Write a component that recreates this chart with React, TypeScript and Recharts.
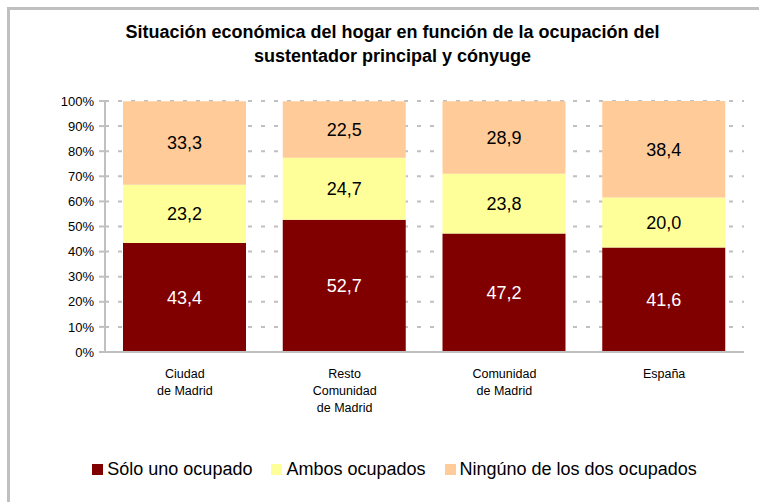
import React from "react";
import { BarChart, Bar, XAxis, YAxis, CartesianGrid, LabelList, Legend } from "recharts";

const categories = ["Ciudad\nde Madrid", "Resto\nComunidad\nde Madrid", "Comunidad\nde Madrid", "España"];
const soloUno = [43.4, 52.7, 47.2, 41.6];
const ambos = [23.2, 24.7, 23.8, 20.0];
const ninguno = [33.3, 22.5, 28.9, 38.4];
const yTicks = [0, 10, 20, 30, 40, 50, 60, 70, 80, 90, 100];
const seriesNames = ["Sólo uno ocupado", "Ambos ocupados", "Ningúno de los dos ocupados"];
const seriesColors = ["#800000", "#FFFF99", "#FFCC99"];
const titleLines = ["Situación económica del hogar en función de la ocupación del", "sustentador principal y cónyuge"];

const data = categories.map((c, i) => ({ cat: c, solo: soloUno[i], ambos: ambos[i], ninguno: ninguno[i] }));

const FONT = "'Liberation Sans', Arial, sans-serif";

const fmt = (v: any) => Number(v).toFixed(1).replace(".", ",");

const XTick = (props: any) => {
  const { x, y, payload } = props;
  const lines = String(payload.value).split("\n");
  return (
    <text x={x} y={y} textAnchor="middle" fontSize={12.5} fill="#000" fontFamily={FONT}>
      {lines.map((l, i) => (
        <tspan key={i} x={x} dy={i === 0 ? 18 : 17}>{l}</tspan>
      ))}
    </text>
  );
};

const LegendContent = () => (
  <div style={{ display: "flex", justifyContent: "center", alignItems: "center", height: 20, fontFamily: FONT, fontSize: 18, color: "#000", paddingLeft: 30 }}>
    {seriesNames.map((n, i) => (
      <div key={n} style={{ display: "flex", alignItems: "center", marginRight: i < 2 ? 19 : 0 }}>
        <span style={{ display: "inline-block", width: 11, height: 11, background: seriesColors[i], marginRight: 4 }} />
        <span>{n}</span>
      </div>
    ))}
  </div>
);

export default function App() {
  return (
    <div style={{ position: "absolute", left: 0, top: 0, width: 759, height: 502, overflow: "hidden", background: "#fff" }}>
      <div style={{ position: "absolute", left: 7, top: 7, width: 752, height: 3, background: "#c0c0c0" }} />
      <div style={{ position: "absolute", left: 7, top: 7, width: 3, height: 495, background: "#c0c0c0" }} />
      <div style={{ position: "absolute", left: 0, top: 20, width: 785, textAlign: "center", fontFamily: FONT, fontWeight: "bold", fontSize: 18, lineHeight: "24px", color: "#000" }}>
        {titleLines.map((t) => (
          <div key={t}>{t}</div>
        ))}
      </div>
      <div style={{ position: "absolute", left: 0, top: 0 }}>
        <BarChart
          width={759}
          height={502}
          data={data}
          margin={{ top: 101, right: 15, bottom: 70, left: 55 }}
          barSize={123}
        >
          <CartesianGrid vertical={false} stroke="#c0c0c0" strokeWidth={2} strokeDasharray="4 9" />
          <YAxis
            width={50}
            domain={[0, 100]}
            ticks={yTicks}
            allowDataOverflow
            tickFormatter={(v) => `${v}%`}
            axisLine={{ stroke: "#c0c0c0", strokeWidth: 2 }}
            tickLine={{ stroke: "#c0c0c0", strokeWidth: 2 }}
            tickSize={6}
            tickMargin={5}
            tick={{ fontSize: 13, fill: "#000", fontFamily: FONT }}
          />
          <XAxis
            dataKey="cat"
            height={60}
            interval={0}
            axisLine={{ stroke: "#c0c0c0", strokeWidth: 2 }}
            tickLine={false}
            tick={<XTick />}
          />
          <Legend content={<LegendContent />} wrapperStyle={{ top: 459, left: 0, width: 759, height: 20 }} />
          <Bar dataKey="solo" stackId="a" fill={seriesColors[0]} isAnimationActive={false}>
            <LabelList dataKey="solo" position="center" formatter={fmt} fill="#fff" fontSize={18} fontFamily={FONT} />
          </Bar>
          <Bar dataKey="ambos" stackId="a" fill={seriesColors[1]} isAnimationActive={false}>
            <LabelList dataKey="ambos" position="center" formatter={fmt} fill="#000" fontSize={18} fontFamily={FONT} />
          </Bar>
          <Bar dataKey="ninguno" stackId="a" fill={seriesColors[2]} isAnimationActive={false}>
            <LabelList dataKey="ninguno" position="center" formatter={fmt} fill="#000" fontSize={18} fontFamily={FONT} />
          </Bar>
        </BarChart>
      </div>
    </div>
  );
}
